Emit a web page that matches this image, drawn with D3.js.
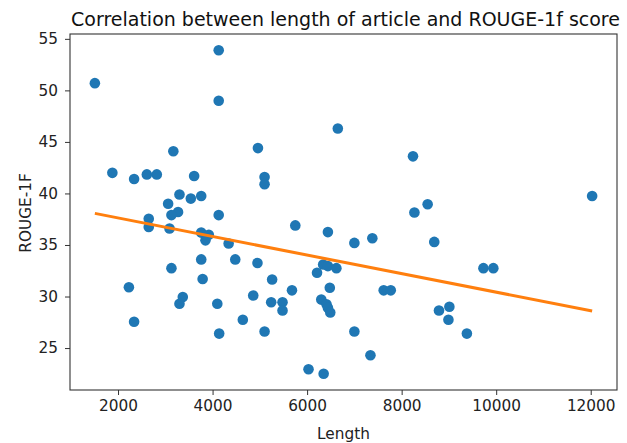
<!DOCTYPE html>
<html>
<head>
<meta charset="utf-8">
<script src="https://cdn.jsdelivr.net/npm/d3@7"></script>
<style>
body { margin: 0; background: #fff; }
svg { display: block; font-family: "DejaVu Sans", sans-serif; }
</style>
</head>
<body>
<svg id="chart" width="627" height="443"></svg>
<script>
const lengths = [1510,4130,4130,3170,4960,1880,2340,2610,2820,3610,5100,5100,3300,3060,3540,3760,3270,3130,4130,2650,2650,3090,3760,3920,3850,4340,3760,4480,4950,3130,3790,2230,3370,3300,4100,4860,2340,4140,4640,5750,6440,7000,7380,6210,6340,6440,6620,5260,5680,6480,5240,5480,5480,6300,6410,6440,6490,5100,7000,7340,6030,6350,7620,7770,8270,8550,8690,8790,9010,8990,9730,9940,9380,12030,6650,8240];
const scores = [50.7,53.9,49.0,44.1,44.4,42.0,41.4,41.85,41.85,41.7,41.6,40.9,39.9,39.0,39.5,39.75,38.2,37.9,37.9,37.55,36.75,36.6,36.2,36.0,35.45,35.15,33.6,33.6,33.25,32.75,31.7,30.9,29.95,29.3,29.3,30.1,27.55,26.4,27.75,36.9,36.25,35.2,35.65,32.3,33.1,32.95,32.75,31.65,30.6,30.85,29.45,29.45,28.65,29.7,29.25,28.9,28.45,26.6,26.6,24.3,22.95,22.5,30.6,30.6,38.15,38.95,35.3,28.65,29.0,27.75,32.75,32.75,26.4,39.75,46.3,43.6];
const xTicks = [2000,4000,6000,8000,10000,12000];
const yTicks = [25,30,35,40,45,50,55];
const title = "Correlation between length of article and ROUGE-1f score";
const xLabel = "Length";
const yLabel = "ROUGE-1F";

const svg = d3.select("#chart");
const L = 70, R = 617, T = 34, B = 390;

const xmin = d3.min(lengths), xmax = d3.max(lengths);
const ymin = d3.min(scores), ymax = d3.max(scores);
const xpad = (xmax - xmin) * 0.05, ypad = (ymax - ymin) * 0.05;
const x = d3.scaleLinear().domain([xmin - xpad, xmax + xpad]).range([L, R]);
const y = d3.scaleLinear().domain([ymin - ypad, ymax + ypad]).range([B, T]);

// points
const pts = lengths.map((v, i) => [v, scores[i]]);
svg.append("g").selectAll("circle").data(pts).join("circle")
  .attr("cx", d => x(d[0])).attr("cy", d => y(d[1])).attr("r", 5.3)
  .attr("fill", "#1f77b4");

// least squares fit
const mx = d3.mean(lengths), my = d3.mean(scores);
let sxy = 0, sxx = 0;
pts.forEach(([a, b]) => { sxy += (a - mx) * (b - my); sxx += (a - mx) * (a - mx); });
const slope = sxy / sxx, icpt = my - slope * mx;
const fit = [xmin, xmax].map(v => [v, icpt + slope * v]);
svg.append("path").datum(fit)
  .attr("d", d3.line().x(d => x(d[0])).y(d => y(d[1])))
  .attr("stroke", "#ff7f0e").attr("stroke-width", 3).attr("fill", "none");

// axes
const xa = svg.append("g").attr("transform", `translate(0,${B})`)
  .call(d3.axisBottom(x).tickValues(xTicks).tickFormat(d3.format("d")).tickSize(5).tickPadding(5));
const ya = svg.append("g").attr("transform", `translate(${L},0)`)
  .call(d3.axisLeft(y).tickValues(yTicks).tickFormat(d3.format("d")).tickSize(5).tickPadding(7));
[xa, ya].forEach(g => {
  g.select(".domain").remove();
  g.selectAll("line").attr("stroke", "#333");
  g.selectAll("text").attr("font-size", 15.3).attr("fill", "#222").attr("font-family", "DejaVu Sans");
});

svg.append("rect").attr("x", L).attr("y", T).attr("width", R - L).attr("height", B - T)
  .attr("fill", "none").attr("stroke", "#333").attr("stroke-width", 1.1);

svg.append("text").attr("x", (L + R) / 2 + 2).attr("y", 26).attr("text-anchor", "middle")
  .attr("font-size", 19).attr("fill", "#111").text(title);
svg.append("text").attr("x", (L + R) / 2).attr("y", 439).attr("text-anchor", "middle")
  .attr("font-size", 15.3).attr("fill", "#222").text(xLabel);
svg.append("text").attr("transform", `translate(31,${(T + B) / 2 + 1}) rotate(-90)`).attr("text-anchor", "middle")
  .attr("font-size", 15.3).attr("fill", "#222").text(yLabel);
</script>
</body>
</html>
